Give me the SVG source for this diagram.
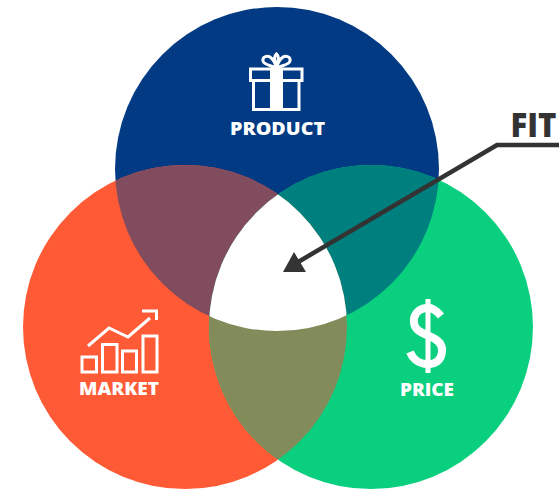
<svg xmlns="http://www.w3.org/2000/svg" width="559" height="489" viewBox="0 0 559 489">
<style>
.lbl{font-family:"Open Sans","Liberation Sans",sans-serif;font-weight:800;fill:#fff;text-anchor:middle;font-size:18px}
.ln{fill:none;stroke:#fff;stroke-width:3}
</style>
<defs>
<clipPath id="cb"><circle cx="277" cy="169" r="162"/></clipPath>
<clipPath id="cr"><circle cx="185" cy="327" r="162"/></clipPath>
</defs>
<rect width="559" height="489" fill="#fff"/>
<g id="circles">
<circle id="product-circle" cx="277" cy="169" r="162" fill="#023a84"/>
<circle id="market-circle" cx="185" cy="327" r="162" fill="#ff5a36"/>
<circle id="price-circle" cx="371" cy="327" r="162" fill="#0acf7f"/>
<g clip-path="url(#cb)"><circle cx="185" cy="327" r="162" fill="#804c5e"/><circle cx="371" cy="327" r="162" fill="#007f7f"/></g>
<g clip-path="url(#cr)"><circle cx="371" cy="327" r="162" fill="#828c5a"/></g>
<g clip-path="url(#cb)"><g clip-path="url(#cr)"><circle cx="371" cy="327" r="162" fill="#fff"/></g></g>
</g>
<g id="product">
<rect class="ln" x="250.500" y="69" width="51.500" height="11.500"/>
<rect class="ln" x="253.500" y="80.500" width="45.500" height="29"/>
<rect x="270" y="68" width="13" height="42" fill="#fff"/>
<path class="ln" d="M276.500 68C270 65 264 65 263 61C262 57 267 55 270 57C273 59 275 62 276.500 68C275 61 273 57 276.500 54C280 57 278 61 276.500 68C278 62 280 59 283 57C286 55 291 57 290 61C289 65 283 65 276.500 68Z"/>
<text class="lbl" x="277.500" y="135" textLength="95" lengthAdjust="spacingAndGlyphs">PRODUCT</text>
</g>
<g id="market">
<rect class="ln" x="82" y="357" width="14.500" height="15"/>
<rect class="ln" x="102.500" y="344.500" width="14.500" height="27.500"/>
<rect class="ln" x="122.500" y="351" width="14" height="21"/>
<rect class="ln" x="143" y="336" width="14" height="36"/>
<path class="ln" d="M88 346L109 328L128 337L150 318"/>
<path class="ln" d="M142 311H156.500V320"/>
<text class="lbl" x="119" y="395" textLength="80" lengthAdjust="spacingAndGlyphs">MARKET</text>
</g>
<g id="price">
<path d="M428 299V373" fill="none" stroke="#fff" stroke-width="5"/>
<path d="M441 316C436 310 431 307 426 308C417 309 413 316 414 323C415 331 423 333 429 336C437 339 443 344 442 352C441 361 434 365 427 364C419 364 413 359 410 352" fill="none" stroke="#fff" stroke-width="8"/>
<text class="lbl" x="427" y="396" textLength="54" lengthAdjust="spacingAndGlyphs">PRICE</text>
</g>
<g id="connectors">
<path d="M559 145H497L293 265" fill="none" stroke="#333" stroke-width="4.500"/>
<path d="M294 252L283 272H306Z" fill="#333"/>
</g>
<g id="fit">
<text x="533.500" y="137" font-family="'Open Sans','Liberation Sans',sans-serif" font-weight="800" font-size="33" fill="#333" text-anchor="middle" textLength="46" lengthAdjust="spacingAndGlyphs">FIT</text>
</g>
</svg>
